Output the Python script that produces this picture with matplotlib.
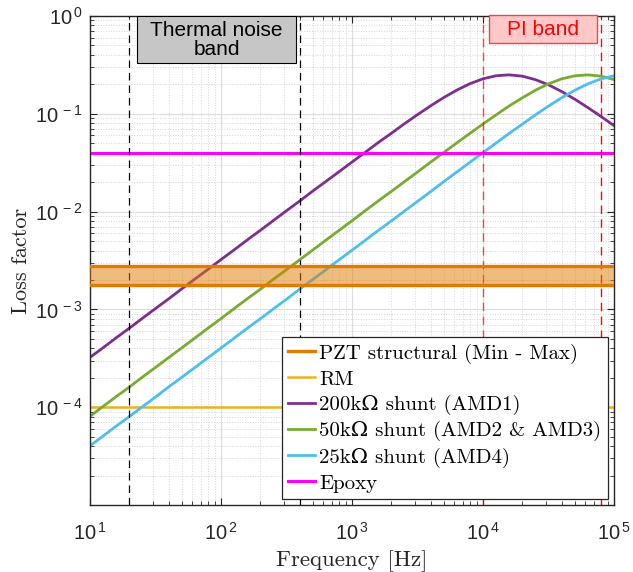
import numpy as np
import matplotlib.pyplot as plt
from matplotlib.patches import Rectangle
from matplotlib.ticker import FuncFormatter

plt.rcParams['font.family'] = ['Liberation Sans', 'DejaVu Sans']
plt.rcParams['mathtext.fontset'] = 'custom'
plt.rcParams['mathtext.rm'] = 'Liberation Sans'

# frequencias (Hz)
freq = [10, 12.6, 15.8, 20.0, 25.1, 31.6, 39.8, 50.1, 63.1, 79.4,
        100, 126, 158, 200, 251, 316, 398, 501, 631, 794,
        1000, 1260, 1580, 2000, 2510, 3160, 3980, 5010, 6310, 7940,
        10000, 12600, 15800, 20000, 25100, 31600, 39800, 50100, 63100, 79400, 100000]

# fator de perda dos shunts
shunt_200k = [3.23e-4, 4.06e-4, 5.11e-4, 6.44e-4, 8.10e-4, 1.02e-3, 1.28e-3, 1.62e-3, 2.04e-3, 2.56e-3,
              3.23e-3, 4.06e-3, 5.11e-3, 6.44e-3, 8.10e-3, 1.02e-2, 1.28e-2, 1.62e-2, 2.03e-2, 2.55e-2,
              3.21e-2, 4.03e-2, 5.06e-2, 6.33e-2, 7.90e-2, 9.79e-2, 0.1205, 0.1464, 0.1746, 0.2029,
              0.2278, 0.2447, 0.2500, 0.2422, 0.2234, 0.1976, 0.1690, 0.1411, 0.1158, 0.0940, 0.0757]
shunt_50k = [8.06e-5, 1.02e-4, 1.28e-4, 1.61e-4, 2.03e-4, 2.55e-4, 3.21e-4, 4.04e-4, 5.09e-4, 6.41e-4,
             8.06e-4, 1.02e-3, 1.28e-3, 1.61e-3, 2.03e-3, 2.55e-3, 3.21e-3, 4.04e-3, 5.09e-3, 6.41e-3,
             8.06e-3, 1.02e-2, 1.28e-2, 1.61e-2, 2.02e-2, 2.54e-2, 3.20e-2, 4.01e-2, 5.04e-2, 6.30e-2,
             7.86e-2, 9.75e-2, 0.1200, 0.1458, 0.1740, 0.2024, 0.2273, 0.2444, 0.2500, 0.2425, 0.2239]
shunt_25k = [4.03e-5, 5.08e-5, 6.39e-5, 8.04e-5, 1.01e-4, 1.27e-4, 1.61e-4, 2.02e-4, 2.54e-4, 3.20e-4,
             4.03e-4, 5.08e-4, 6.39e-4, 8.04e-4, 1.01e-3, 1.27e-3, 1.61e-3, 2.02e-3, 2.54e-3, 3.20e-3,
             4.03e-3, 5.08e-3, 6.39e-3, 8.04e-3, 1.01e-2, 1.27e-2, 1.60e-2, 2.02e-2, 2.54e-2, 3.19e-2,
             4.01e-2, 5.02e-2, 6.29e-2, 7.84e-2, 9.73e-2, 0.1197, 0.1455, 0.1737, 0.2021, 0.2271, 0.2443]

# niveis constantes
pzt_min = 1.78e-3
pzt_max = 2.8e-3
rm_loss = 1e-4
epoxy_loss = 0.04

# bandas
thermal_band = [20, 400]
pi_band = [1e4, 8e4]

serif = ['cmr10', 'DejaVu Serif']

fig = plt.figure(figsize=(6.33, 5.72), dpi=100)
ax = fig.add_axes([0.1422, 0.1171, 0.8278, 0.855])

f_lim = [10, 1e5]
ax.plot(f_lim, [pzt_max, pzt_max], color='#E07B00', lw=2.4, zorder=4,
        label='PZT structural (Min - Max)')
ax.plot(f_lim, [pzt_min, pzt_min], color='#E07B00', lw=2.4, zorder=4)
ax.plot(f_lim, [rm_loss, rm_loss], color='#EDB120', lw=1.8, label='RM')
ax.plot(freq, shunt_200k, color='#7E2F8E', lw=2.0, label='200k\u03a9 shunt (AMD1)')
ax.plot(freq, shunt_50k, color='#77AC30', lw=2.0, label='50k\u03a9 shunt (AMD2 & AMD3)')
ax.plot(freq, shunt_25k, color='#4DBEEE', lw=2.0, label='25k\u03a9 shunt (AMD4)')
ax.plot(f_lim, [epoxy_loss, epoxy_loss], color='#FF00FF', lw=2.2, label='Epoxy')
ax.fill_between(f_lim, pzt_min, pzt_max, color='#E07B00', alpha=0.5, lw=0, zorder=3)

# linhas verticais das bandas
for f in thermal_band:
    ax.axvline(f, color='k', ls=(0, (6, 4)), lw=0.9, zorder=2)
ax.axvline(pi_band[0], color='#FF0000', ls=(0, (6, 4)), lw=1.0, alpha=0.7, zorder=2)
ax.axvline(pi_band[1], color='#FF0000', ls=(0, (6, 4)), lw=1.0, zorder=2)

ax.set_xscale('log')
ax.set_yscale('log')
ax.set_xlim(10, 1e5)
ax.set_ylim(1e-5, 1)
ax.set_yticks([1e-4, 1e-3, 1e-2, 1e-1, 1])

fmt = FuncFormatter(lambda v, p: r'$\mathregular{10^{\,%d}}$' % round(np.log10(v)))
ax.xaxis.set_major_formatter(fmt)
ax.yaxis.set_major_formatter(fmt)

ax.grid(True, which='major', color='#DDDDDD', lw=0.8, ls='-')
ax.grid(True, which='minor', color='#D5D5D5', lw=0.7, ls=':')
ax.set_axisbelow(True)

ax.tick_params(which='both', direction='in', top=True, right=True,
               colors='#262626', labelsize=14.5)
ax.tick_params(which='major', length=5, width=0.8)
ax.tick_params(which='minor', length=3, width=0.6)
ax.tick_params(axis='x', which='major', pad=12)
ax.tick_params(axis='y', which='major', pad=5)
for s in ax.spines.values():
    s.set_color('#262626')
    s.set_linewidth(1.0)

ax.set_xlabel('Frequency [Hz]', family=serif, fontsize=16.5, color='#262626', labelpad=5)
ax.set_ylabel('Loss factor', family=serif, fontsize=16, color='#262626', labelpad=3)

# caixas de texto das bandas
ax.add_patch(Rectangle((0.0897, 0.904), 0.3034, 0.096, transform=ax.transAxes,
                       facecolor='#C6C6C6', edgecolor='k', lw=0.8, zorder=6))
ax.text(0.2414, 0.951, 'Thermal noise\nband', transform=ax.transAxes, ha='center',
        va='center', fontsize=15, linespacing=1.0, zorder=7)
ax.add_patch(Rectangle((0.7615, 0.945), 0.2061, 0.057, transform=ax.transAxes,
                       facecolor='#FFC8C8', edgecolor='#E84848', lw=1.0, zorder=6,
                       clip_on=False))
ax.text(0.8645, 0.973, 'PI band', transform=ax.transAxes, ha='center', va='center',
        fontsize=15, color='#FF0000', zorder=7)

leg = ax.legend(loc='lower right', prop={'family': serif, 'size': 15},
                fancybox=False, framealpha=1, edgecolor='#262626',
                borderaxespad=0.3, borderpad=0.3, labelspacing=0.3,
                handlelength=1.3, handletextpad=0.2)
leg.get_frame().set_linewidth(0.9)
leg.set_zorder(8)

fig.savefig('out.png', dpi=100)
